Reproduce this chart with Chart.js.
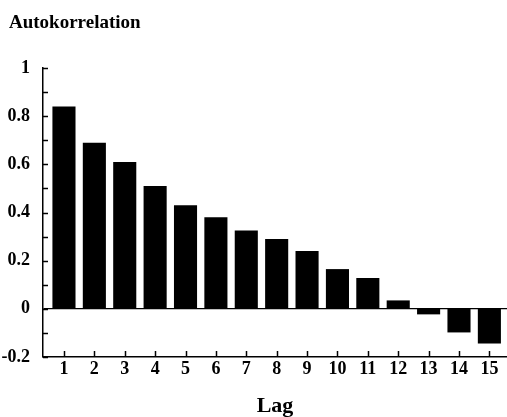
<!DOCTYPE html>
<html>
<head>
<meta charset="utf-8">
<script src="https://cdn.jsdelivr.net/npm/chart.js@4/dist/chart.umd.min.js"></script>
<style>
  html, body { margin: 0; padding: 0; background: #fff; }
  #wrap { width: 507px; height: 417px; position: relative; }
</style>
</head>
<body>
<div id="wrap"><canvas id="c" width="507" height="417"></canvas></div>
<script>
// ---- data ----
const lags = [1, 2, 3, 4, 5, 6, 7, 8, 9, 10, 11, 12, 13, 14, 15];
const autocorr = [0.84, 0.69, 0.61, 0.51, 0.43, 0.38, 0.325, 0.29, 0.24, 0.165, 0.128, 0.035, -0.023, -0.098, -0.144];
const yTickLabels = ['-0.2', '0', '0.2', '0.4', '0.6', '0.8', '1'];
const chartTitle = 'Autokorrelation';
const xTitle = 'Lag';

const SERIF = '"Liberation Serif", "Times New Roman", serif';

// top-left title, drawn as canvas text
const cornerTitle = {
  id: 'cornerTitle',
  afterDraw(chart) {
    const ctx = chart.ctx;
    ctx.save();
    ctx.fillStyle = '#000';
    ctx.font = 'bold 19px ' + SERIF;
    ctx.textAlign = 'left';
    ctx.textBaseline = 'middle';
    ctx.fillText(chartTitle, 9, 23);
    ctx.restore();
  }
};

// tick marks pointing into the plot area, at the scales' own tick positions
const inwardTicks = {
  id: 'inwardTicks',
  afterDraw(chart) {
    const xs = chart.scales.x;
    const ys = chart.scales.y;
    const ctx = chart.ctx;
    const { left, bottom } = chart.chartArea;
    ctx.save();
    ctx.strokeStyle = '#000';
    ctx.lineWidth = 1.5;
    xs.ticks.forEach(t => {
      const px = Math.round(xs.getPixelForValue(t.value)) + 0.5;
      ctx.beginPath();
      ctx.moveTo(px, bottom);
      ctx.lineTo(px, bottom - 6);
      ctx.stroke();
    });
    ys.ticks.forEach(t => {
      const py = Math.round(ys.getPixelForValue(t.value)) + 0.5;
      ctx.beginPath();
      ctx.moveTo(left, py);
      ctx.lineTo(left + 5, py);
      ctx.stroke();
    });
    ctx.restore();
  }
};

new Chart(document.getElementById('c'), {
  type: 'bar',
  data: {
    datasets: [{
      data: lags.map((l, i) => ({ x: l, y: autocorr[i] })),
      backgroundColor: '#000',
      borderWidth: 0,
      barPercentage: 0.76,
      categoryPercentage: 1.0
    }]
  },
  options: {
    responsive: false,
    animation: false,
    layout: { padding: { left: 0, right: 0, top: 68, bottom: 0 } },
    plugins: {
      legend: { display: false },
      tooltip: { enabled: false },
      title: { display: false }
    },
    scales: {
      x: {
        type: 'linear',
        offset: false,
        min: 0.31,
        max: 15.58,
        afterBuildTicks(scale) {
          scale.ticks = lags.map(v => ({ value: v }));
        },
        afterFit(scale) { scale.height = 60; },
        grid: { display: false, drawTicks: false, offset: false },
        border: { display: true, color: '#000', width: 1.5 },
        ticks: {
          color: '#000',
          padding: 2,
          autoSkip: false,
          maxRotation: 0,
          font: { family: SERIF, size: 18, weight: 'bold' },
          callback: (v) => String(v)
        },
        title: {
          display: true,
          text: xTitle,
          color: '#000',
          font: { family: SERIF, size: 22, weight: 'bold', lineHeight: 1.0 },
          padding: { top: 0, bottom: 0 }
        }
      },
      y: {
        min: -0.2,
        max: 1,
        afterFit(scale) { scale.width = 43; },
        border: { display: true, color: '#000', width: 1.5 },
        grid: {
          drawOnChartArea: true,
          drawTicks: false,
          lineWidth: 1.2,
          color: (ctx) => (ctx.tick && Math.abs(ctx.tick.value) < 1e-9) ? '#000' : 'rgba(0,0,0,0)'
        },
        ticks: {
          stepSize: 0.1,
          autoSkip: false,
          color: '#000',
          padding: 13,
          font: { family: SERIF, size: 18, weight: 'bold' },
          callback: (v) => {
            const k = Math.round(v * 10);
            if (k % 2 !== 0) return '';
            return yTickLabels[(k + 2) / 2];
          }
        }
      }
    }
  },
  plugins: [inwardTicks, cornerTitle]
});
</script>
</body>
</html>
